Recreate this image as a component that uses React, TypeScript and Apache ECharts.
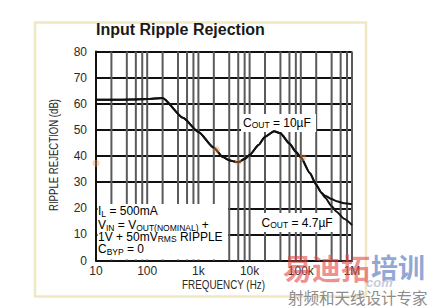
import React, { useEffect, useRef } from "react";
import * as echarts from "echarts";

// ---- data ----
const sharedFreq = [10, 20, 50, 100, 200, 500, 1000, 2000, 3000, 4000, 5000, 6000, 8000, 10000, 15000, 20000, 30000, 40000, 60000, 80000, 100000, 150000, 200000, 250000];
const sharedDb = [61.5, 61.5, 61.6, 61.8, 62.2, 54.6, 49.2, 43.2, 39.6, 38.4, 37.9, 37.6, 38.9, 40.4, 44.2, 47.4, 49.5, 48.7, 44.8, 41.6, 39.5, 33.5, 29.0, 26.0];
const tailFreq = [300000, 400000, 500000, 700000, 1000000];
const tail10uFDb = [24.8, 23.5, 22.7, 21.9, 21.5];
const tail47uFDb = [24.0, 20.8, 18.7, 16.0, 13.6];
const highlightFreq = [10, 2270, 6000, 110000];
const highlightDb = [37.2, 42.4, 37.7, 39.4];

const xTickValues = [10, 100, 1000, 10000, 100000, 1000000];
const xTickLabels = ["10", "100", "1k", "10k", "100k", "1M"];
const gridLineFreqs = [20, 40, 60, 80, 100, 200, 400, 600, 800, 1000, 2000, 4000, 6000, 8000, 10000, 20000, 40000, 60000, 80000, 100000, 200000, 400000, 600000, 800000, 1000000];
const axisLineFreqs = [10];
const yMin = 0;
const yMax = 80;

const titleText = "Input Ripple Rejection";
const xName = "FREQUENCY (Hz)";
const yName = "RIPPLE REJECTION (dB)";

const FONT = "'Liberation Sans', Arial, sans-serif";

export default function App() {
  const ref = useRef<HTMLDivElement>(null);
  useEffect(() => {
    if (!ref.current) return;
    const chart = echarts.init(ref.current, null, { renderer: "svg" });

    const sharedPts = sharedFreq.map((f, i) => [f, sharedDb[i]]);
    const s10 = sharedPts.concat(tailFreq.map((f, i) => [f, tail10uFDb[i]]));
    const s47 = sharedPts.concat(tailFreq.map((f, i) => [f, tail47uFDb[i]]));

    const rich = {
      n: { fontSize: 12, fontFamily: FONT, color: "#111", lineHeight: 14 },
      sc: { fontSize: 8.5, fontFamily: FONT, color: "#111", lineHeight: 11, verticalAlign: "bottom" },
      sub: { fontSize: 8.5, fontFamily: FONT, color: "#111", lineHeight: 6, verticalAlign: "bottom" },
    };
    const rtext = (x: number, y: number, text: string) => ({
      type: "text",
      x,
      y,
      z: 40,
      style: { text, rich, verticalAlign: "top", align: "left" },
    });

    const baseGraphic: any[] = [
      {
        type: "rect",
        z: -1,
        shape: { x: 35, y: 22.5, width: 331, height: 274 },
        style: { fill: "none", stroke: "#efe8c2", lineWidth: 2.5 },
      },
      { type: "rect", z: 13, shape: { x: 97.5, y: 204, width: 130.5, height: 55.5 }, style: { fill: "#fff" } },
      { type: "rect", z: 13, shape: { x: 241, y: 114, width: 75, height: 18 }, style: { fill: "#fff" } },
      { type: "rect", z: 13, shape: { x: 258, y: 213, width: 79, height: 19 }, style: { fill: "#fff" } },
      rtext(98, 204.3, "{n|I}{sub|L}{n| = 500mA}"),
      rtext(98, 218.3, "{n|V}{sc|IN}{n| = V}{sc|OUT(NOMINAL)}{n| +}"),
      rtext(98, 229.8, "{n|1V + 50mV}{sub|RMS}{n| RIPPLE}"),
      rtext(98, 242.3, "{n|C}{sc|BYP}{n| = 0}"),
      rtext(243, 115.5, "{n|C}{sc|OUT}{n| = 10µF}"),
      rtext(261.5, 215.5, "{n|C}{sc|OUT}{n| = 4.7µF}"),
      {
        type: "text",
        x: 223.5,
        y: 284.5,
        scaleX: 0.82,
        z: 40,
        style: { text: xName, font: "12px 'Liberation Sans'", fill: "#2a2a2a", align: "center", verticalAlign: "middle" },
      },
      {
        type: "text",
        x: 54,
        y: 155,
        rotation: Math.PI / 2,
        scaleX: 0.8,
        z: 40,
        style: { text: yName, font: "12px 'Liberation Sans'", fill: "#2a2a2a", align: "center", verticalAlign: "middle" },
      },
      {
        type: "text",
        x: 283,
        y: 252,
        z: 50,
        silent: true,
        style: { text: "易迪拓", font: "bold 29px 'Noto Sans CJK SC'", fill: "rgba(228,70,70,0.62)", verticalAlign: "top" },
      },
      {
        type: "text",
        x: 371,
        y: 253,
        z: 50,
        silent: true,
        style: { text: "培训", font: "bold 27px 'Noto Sans CJK SC'", fill: "rgba(70,110,185,0.6)", verticalAlign: "top" },
      },
      {
        type: "text",
        x: 366,
        y: 276,
        z: 50,
        silent: true,
        style: { text: "com", font: "italic bold 13px 'Liberation Sans'", fill: "rgba(140,150,185,0.5)", verticalAlign: "top" },
      },
      {
        type: "text",
        x: 288,
        y: 297,
        z: 51,
        silent: true,
        style: { text: "射频和天线设计专家", font: "15.5px 'Noto Sans CJK SC'", fill: "#8c8c8c", verticalAlign: "middle" },
      },
    ];

    chart.setOption({
      animation: false,
      backgroundColor: "#ffffff",
      title: {
        text: titleText,
        left: 96,
        top: 21,
        padding: 0,
        textStyle: { fontFamily: FONT, fontWeight: "bold", fontSize: 16, color: "#1a1a1a" },
      },
      grid: { left: 96, right: 85, top: 51.5, bottom: 47.5, outerBoundsMode: "none" },
      xAxis: {
        type: "log",
        logBase: 10,
        min: 10,
        max: 1000000,
        axisLine: { show: true, onZero: false, lineStyle: { color: "#111", width: 2 } },
        axisTick: { show: false },
        splitLine: { show: false },
        axisLabel: {
          fontFamily: FONT,
          fontSize: 12,
          color: "#2a2a2a",
          margin: 4,
          formatter: (v: number) => {
            const idx = xTickValues.findIndex((t) => Math.abs(Math.log10(t) - Math.log10(v)) < 1e-6);
            return idx >= 0 ? xTickLabels[idx] : "";
          },
        },
      },
      yAxis: {
        type: "value",
        min: yMin,
        max: yMax,
        interval: 10,
        axisLine: { show: true, onZero: false, lineStyle: { color: "#111", width: 2 } },
        axisTick: { show: false },
        splitLine: { show: true, lineStyle: { color: "#111", width: 1.8 } },
        axisLabel: { fontFamily: FONT, fontSize: 12, color: "#2a2a2a", margin: 9 },
      },
      series: [
        {
          type: "line",
          name: "COUT = 10µF",
          data: s10,
          z: 14,
          smooth: 0.2,
          smoothMonotone: "x",
          showSymbol: false,
          symbol: "none",
          lineStyle: { color: "#111", width: 2 },
        },
        {
          type: "line",
          name: "COUT = 4.7µF",
          data: s47,
          z: 14,
          smooth: 0.2,
          smoothMonotone: "x",
          showSymbol: false,
          symbol: "none",
          lineStyle: { color: "#111", width: 2 },
        },
        {
          type: "scatter",
          name: "highlight",
          data: highlightFreq.map((f, i) => [f, highlightDb[i]]),
          z: 15,
          symbolSize: 7,
          silent: true,
          itemStyle: { color: "rgba(238,150,80,0.5)" },
        },
      ],
      graphic: baseGraphic,
    });

    // vertical grid lines placed through the axis scale
    const toPx = (v: number, y: number) => chart.convertToPixel({ xAxisIndex: 0, yAxisIndex: 0 }, [v, y]) as number[];
    const makeBar = (v: number, color: string) => {
      const pBottom = toPx(v, yMin);
      const pTop = toPx(v, yMax);
      if (!pBottom || !pTop || !isFinite(pBottom[0])) return null;
      return {
        type: "rect",
        z: 12,
        silent: true,
        shape: { x: pBottom[0] - 1, y: pTop[1], width: 2, height: pBottom[1] - pTop[1] },
        style: { fill: color },
      };
    };
    const bars: any[] = [];
    gridLineFreqs.forEach((v) => {
      const b = makeBar(v, "#5a5a5a");
      if (b) bars.push(b);
    });
    axisLineFreqs.forEach((v) => {
      const b = makeBar(v, "#111111");
      if (b) bars.push(b);
    });
    chart.setOption({ graphic: baseGraphic.concat(bars) });

    return () => chart.dispose();
  }, []);
  return <div ref={ref} style={{ position: "fixed", left: 0, top: 0, width: 437, height: 308 }} />;
}
